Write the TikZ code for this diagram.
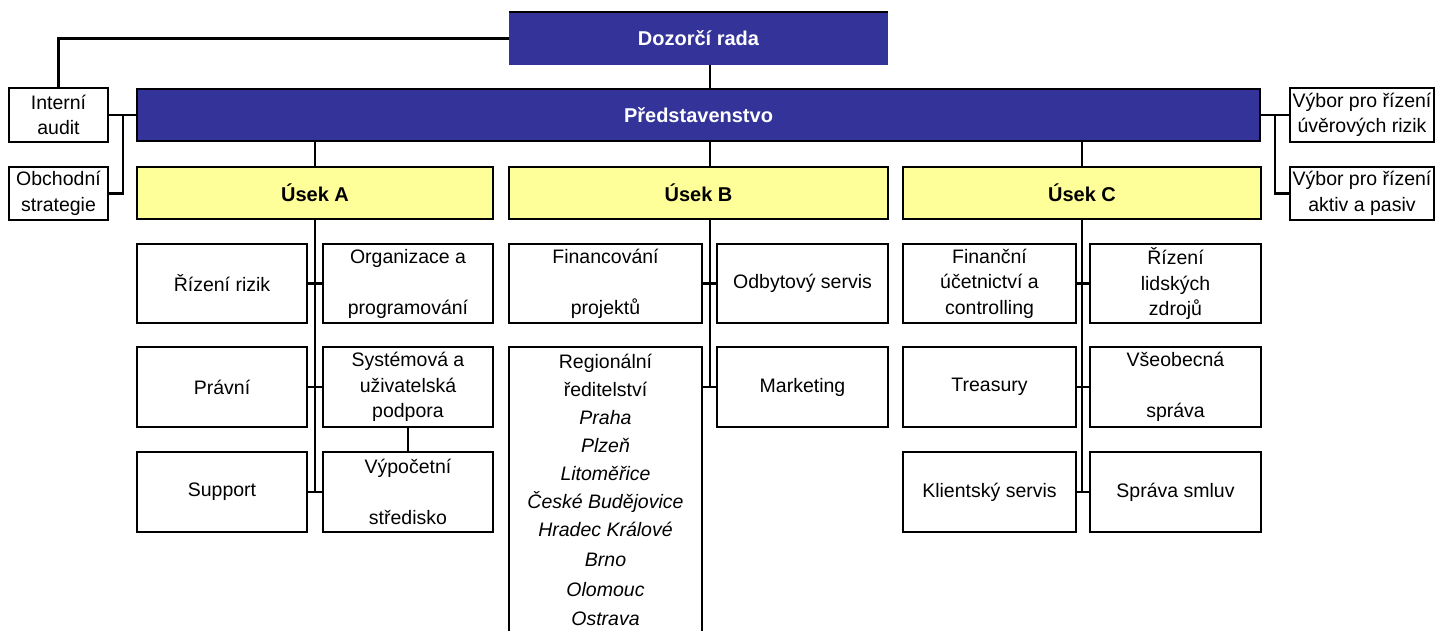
\documentclass[tikz,border=0pt]{standalone}
\usepackage{fontspec}
\setmainfont{Liberation Sans}
\definecolor{navy}{RGB}{51,51,153}
\definecolor{pale}{RGB}{255,255,153}
\newcommand{\mybox}[7]{%
  \pgfmathsetmacro\cxx{(#3+#5)/2}%
  \pgfmathsetmacro\cyy{(#4+#6)/2}%
  \pgfmathsetmacro\ww{#5-#3}%
  \pgfmathsetmacro\hh{#6-#4}%
  \node[#1, minimum width=\ww pt, minimum height=\hh pt] (#2) at (\cxx,\cyy) {#7};}
\begin{document}
\begin{tikzpicture}[x=1pt,y=-1pt,
  base/.style={inner sep=0pt, outer sep=0pt, align=center},
  box/.style={base, draw=black, line width=2.5pt, fill=white, font=\fontsize{19.5}{25.5}\selectfont},
  bluebox/.style={base, fill=navy, text=white, font=\fontsize{20}{24}\selectfont\bfseries},
  bluedraw/.style={bluebox, draw=black, line width=2.5pt},
  yellowbox/.style={base, draw=black, line width=2.5pt, fill=pale, font=\fontsize{20}{24}\selectfont\bfseries},
  conn/.style={draw=black, line width=2.3pt},
  thinconn/.style={draw=black, line width=1.4pt}]
\useasboundingbox (0,0) rectangle (1442,630);
\clip (0,0) rectangle (1442,630);
\fill[white] (0,0) rectangle (1442,630);

% top level
\mybox{bluebox}{dozor}{509}{12}{888}{65}{Dozorčí rada}
\draw[line width=2.5pt] (dozor.north west) -- (dozor.north east);
\mybox{bluedraw}{pred}{137}{89}{1260}{141}{Představenstvo}
\mybox{box}{audit}{9}{88}{108}{142}{Interní\\audit}
\mybox{box}{obch}{9}{167}{108}{220}{Obchodní\\strategie}
\mybox{box}{vyb1}{1290}{88}{1434}{142}{Výbor pro řízení\\úvěrových rizik}
\mybox{box}{vyb2}{1290}{167}{1434}{220}{Výbor pro řízení\\aktiv a pasiv}

% divisions
\mybox{yellowbox}{useka}{137}{167}{493}{219}{Úsek A}
\mybox{yellowbox}{usekb}{509}{167}{888}{219}{Úsek B}
\mybox{yellowbox}{usekc}{903}{167}{1261}{219}{Úsek C}

% column A
\mybox{box}{riz}{137}{244}{307}{323}{Řízení rizik}
\mybox{box}{org}{323}{244}{493}{323}{Organizace a\\[25.5pt]programování}
\mybox{box}{prav}{137}{347}{307}{427}{Právní}
\mybox{box}{sys}{323}{347}{493}{427}{Systémová a\\uživatelská\\podpora}
\mybox{box}{supp}{137}{452}{307}{532}{Support}
\mybox{box}{vyp}{323}{452}{493}{532}{Výpočetní\\[25.5pt]středisko}

% column B
\mybox{box}{fin}{509}{244}{702}{323}{Financování\\[25.5pt]projektů}
\mybox{box}{odb}{717}{244}{888}{323}{Odbytový servis}
\mybox{box}{mark}{717}{347}{888}{427}{Marketing}
\node[box, anchor=north, minimum width=193pt, inner ysep=7pt, text depth=40pt,
      font=\fontsize{19.5}{28}\selectfont] (reg) at (605.5,347)
  {Regionální\\ředitelství\\\textit{Praha}\\\textit{Plzeň}\\\textit{Litoměřice}\\\textit{České Budějovice}\\\textit{Hradec Králové}\\[2pt]\textit{Brno}\\[2pt]\textit{Olomouc}\\[1pt]\textit{Ostrava}};

% column C
\mybox{box}{fuc}{903}{244}{1076}{323}{Finanční\\účetnictví a\\controlling}
\mybox{box}{rlz}{1090}{244}{1261}{323}{Řízení\\lidských\\zdrojů}
\mybox{box}{treas}{903}{347}{1076}{427}{Treasury}
\mybox{box}{vseo}{1090}{347}{1261}{427}{Všeobecná\\[25.5pt]správa}
\mybox{box}{klient}{903}{452}{1076}{532}{Klientský servis}
\mybox{box}{sprava}{1090}{452}{1261}{532}{Správa smluv}

% junction coordinates
\coordinate (tB) at (710,0);
\coordinate (lj) at (123,115);
\coordinate (rj) at (1275,115);

% connectors top
\draw[conn] (dozor.west) -| (audit.north);
\draw[conn] (dozor.south -| tB) -- (pred.north -| tB);
\draw[conn] (pred.west) -- (audit.east);
\draw[conn] (lj) |- (obch.east);
\draw[conn] (pred.east) -- (vyb1.west);
\draw[conn] (rj) |- (vyb2.west);
\draw[conn] (pred.south -| useka.north) -- (useka.north);
\draw[conn] (pred.south -| tB) -- (usekb.north -| tB);
\draw[conn] (pred.south -| usekc.north) -- (usekc.north);

% column A connectors
\draw[conn] (useka.south) -- (useka.south |- supp.east);
\draw[conn] (riz.east) -- (org.west);
\draw[conn] (prav.east) -- (sys.west);
\draw[conn] (supp.east) -- (vyp.west);
\draw[thinconn] (sys.south) -- (vyp.north);

% column B connectors
\draw[conn] (usekb.south -| tB) -- (tB |- mark.west);
\draw[conn] (fin.east) -- (odb.west);
\draw[conn] (reg.east |- mark.west) -- (mark.west);

% column C connectors
\draw[conn] (usekc.south) -- (usekc.south |- klient.east);
\draw[conn] (fuc.east) -- (rlz.west);
\draw[conn] (treas.east) -- (vseo.west);
\draw[conn] (klient.east) -- (sprava.west);
\end{tikzpicture}
\end{document}
